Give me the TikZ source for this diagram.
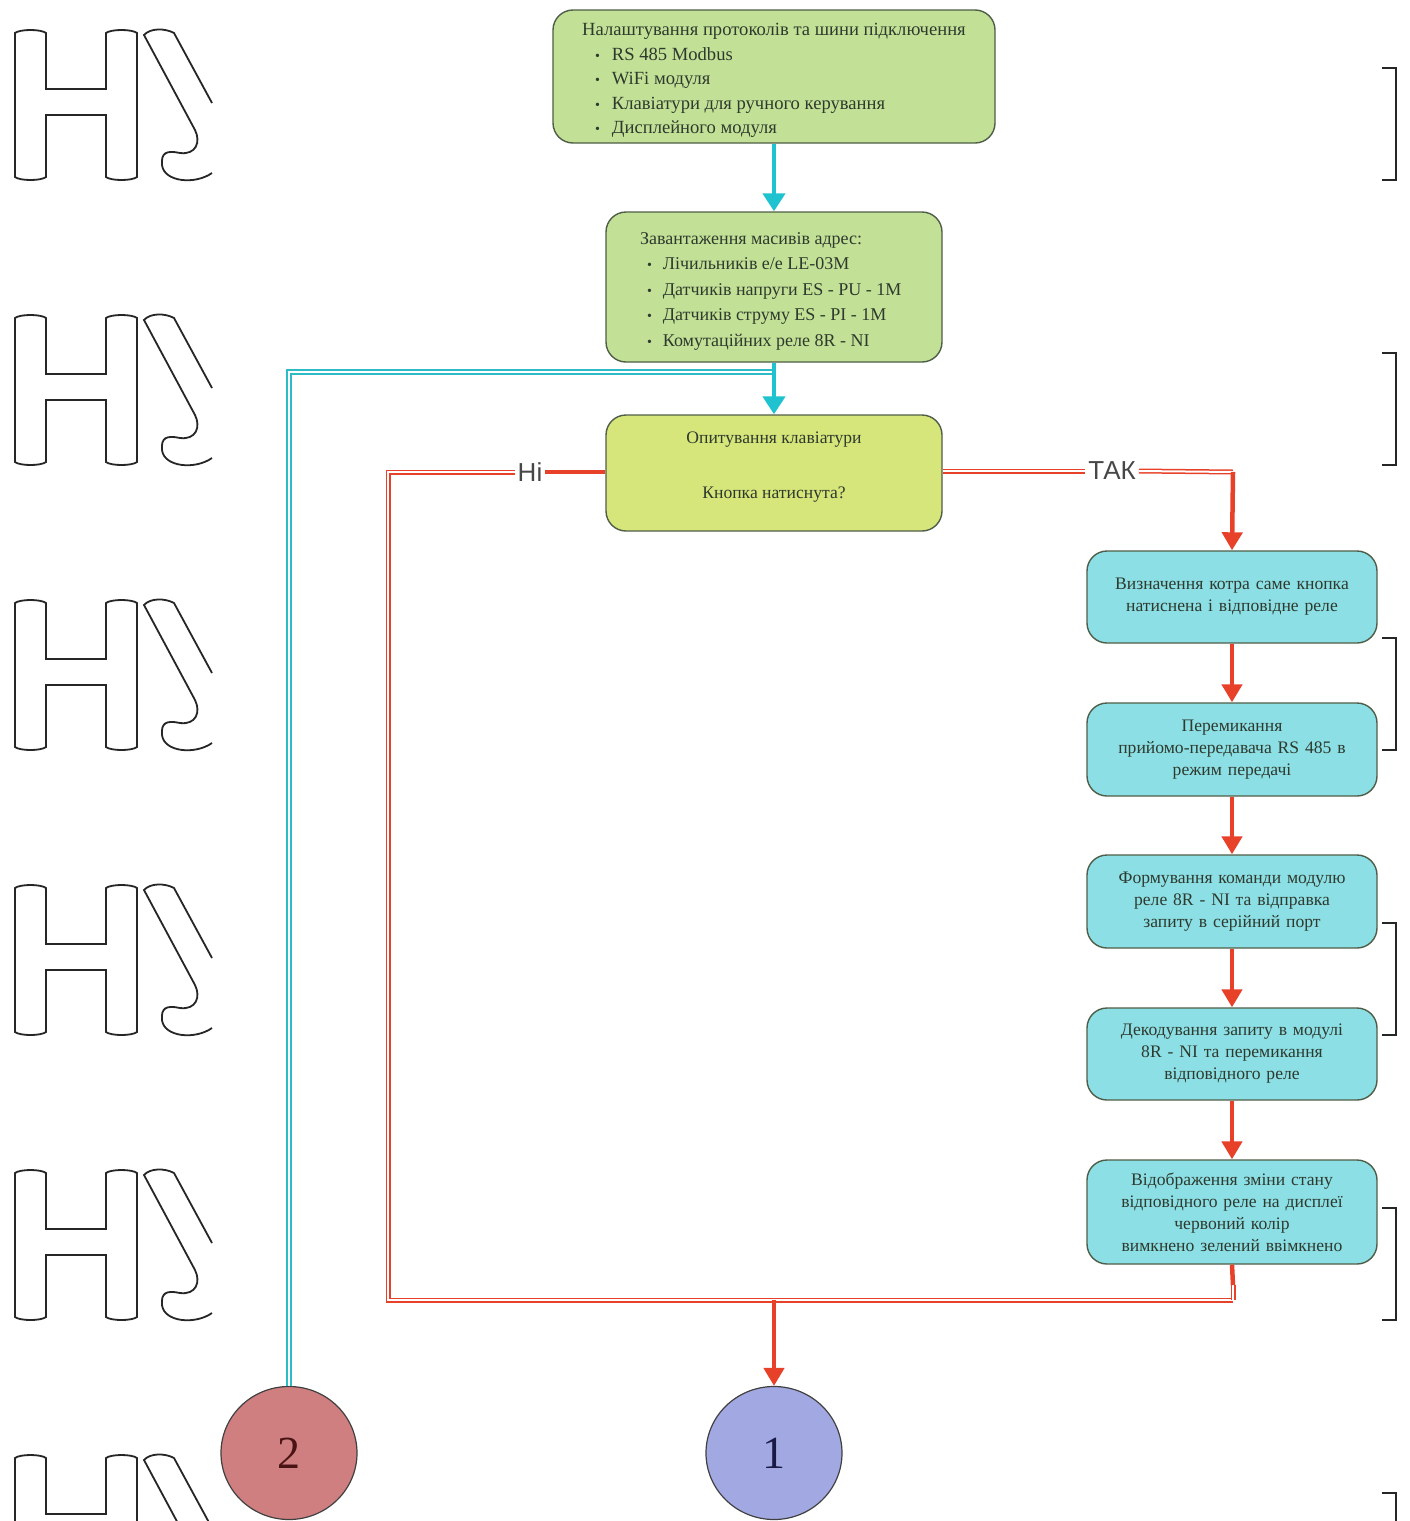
\documentclass[tikz,border=0pt]{standalone}
\usepackage{fontspec}
\setmainfont{Liberation Serif}
\newfontfamily\lblfont{Liberation Sans}
\usetikzlibrary{arrows.meta,shapes.geometric}
\definecolor{gfill}{HTML}{C3E196}
\definecolor{yfill}{HTML}{D7E67A}
\definecolor{cfill}{HTML}{8CDFE5}
\definecolor{edgec}{HTML}{4F5E48}
\definecolor{txtc}{HTML}{2E3A2E}
\definecolor{cyanA}{HTML}{1FC3CF}
\definecolor{tealA}{HTML}{2BBCC6}
\definecolor{redA}{HTML}{E8412A}
\definecolor{c2fill}{HTML}{CF7F80}
\definecolor{c1fill}{HTML}{A2A9E2}
\newcommand\fbul{{\fontsize{14}{10}\selectfont\textbullet}}
\begin{document}
\begin{tikzpicture}[x=1pt,y=-1pt,
  flowbox/.style={draw=edgec, line width=1.4pt, rounded corners=20pt, inner sep=0pt, text=txtc, font=\fontsize{17.6}{22}\selectfont},
  gbox/.style={flowbox, fill=gfill, font=\fontsize{18.6}{24.5}\selectfont},
  ybox/.style={flowbox, fill=yfill, align=center},
  cbox/.style={flowbox, fill=cfill, align=center, text width=284pt, minimum width=290pt},
  cyarrow/.style={draw=cyanA, line width=4.5pt, -{Triangle[width=22pt,length=18pt]}},
  redarrow/.style={draw=redA, line width=4.5pt, -{Triangle[width=20pt,length=18pt]}},
  redthick/.style={draw=redA, line width=4.5pt},
  reddouble/.style={draw=redA, line width=1.5pt, double=white, double distance=2pt},
  tealdouble/.style={draw=tealA, line width=1.4pt, double=white, double distance=2.6pt},
  lbl/.style={font=\lblfont\fontsize{26}{26}\selectfont, text=black!72, inner sep=3pt},
  circnode/.style={ellipse, draw=black!75, line width=1.2pt, minimum width=136pt, minimum height=133pt, font=\fontsize{46}{46}\selectfont},
  wmline/.style={draw=black!85, line width=1.8pt},
  wmH/.pic={
    \draw[wmline] (15,33) .. controls (20,29) and (41,29) .. (46,33) -- (46,89) -- (106,89) -- (106,33)
      .. controls (111,29) and (132,29) .. (137,33) -- (137,177) .. controls (132,181) and (111,181) .. (106,177)
      -- (106,115) -- (46,115) -- (46,177) .. controls (41,181) and (20,181) .. (15,177) -- cycle;
    \draw[wmline] (212,103) -- (174,33) .. controls (165,28) and (150,28) .. (144,35) -- (195,130)
      .. controls (201,142) and (196,155) .. (180,153) .. controls (166,150) and (161,153) .. (162,165)
      .. controls (164,182) and (195,185) .. (212,173);
  },
  wmB/.pic={
    \draw[wmline] (1382,68) -- (1396,68) -- (1396,180) -- (1382,180);
  }
]
\useasboundingbox[fill=white] (0,0) rectangle (1410,1521);

% watermark fragments
\foreach \k in {0,...,5} {
  \pic at (0,285*\k) {wmH};
  \pic at (0,285*\k) {wmB};
}
\useasboundingbox (0,0) rectangle (1410,1521);

% boxes
\node[gbox, minimum width=442pt, minimum height=133pt] (b1) at (774,76.5) {%
\begin{minipage}{430pt}\vspace*{8pt}\centering Налаштування протоколів та шини підключення\par\raggedright
\hspace*{36pt}\fbul\hspace{12pt}RS 485 Modbus\par
\hspace*{36pt}\fbul\hspace{12pt}WiFi модуля\par
\hspace*{36pt}\fbul\hspace{12pt}Клавіатури для ручного керування\par
\hspace*{36pt}\fbul\hspace{12pt}Дисплейного модуля\end{minipage}};

\node[gbox, minimum width=336pt, minimum height=150pt, font=\fontsize{18}{25.5}\selectfont] (b2) at (774,287) {%
\begin{minipage}{320pt}\vspace*{8pt}\raggedright
\hspace*{26pt}Завантаження масивів адрес:\par
\hspace*{33pt}\fbul\hspace{11pt}Лічильників е/е LE-03M\par
\hspace*{33pt}\fbul\hspace{11pt}Датчиків напруги ES - PU - 1M\par
\hspace*{33pt}\fbul\hspace{11pt}Датчиків струму ES - PI - 1M\par
\hspace*{33pt}\fbul\hspace{11pt}Комутаційних реле 8R - NI\end{minipage}};

\node[ybox, minimum width=336pt, minimum height=116pt] (b3) at (774,473) {Опитування клавіатури\\[33pt]Кнопка натиснута?\\[-6pt]};

\node[cbox, minimum height=92pt] (b4) at (1232,597) {Визначення котра саме кнопка\\натиснена і відповідне реле};
\node[cbox, minimum height=93pt] (b5) at (1232,749.5) {Перемикання\\прийомо-передавача RS 485 в\\режим передачі};
\node[cbox, minimum height=93pt] (b6) at (1232,901.5) {Формування команди модулю\\реле 8R - NI та відправка\\запиту в серійний порт};
\node[cbox, minimum height=92pt] (b7) at (1232,1054) {Декодування запиту в модулі\\8R - NI та перемикання\\відповідного реле};
\node[cbox, minimum height=104pt] (b8) at (1232,1212) {Відображення зміни стану\\відповідного реле на дисплеї\\червоний колір\\вимкнено зелений ввімкнено};

\node[circnode, fill=c2fill, text={rgb,255:red,75;green,20;blue,20}] (c2) at (289,1453) {2};
\node[circnode, fill=c1fill, text={rgb,255:red,25;green,25;blue,70}] (c1) at (774,1453) {1};

% labels
\node[lbl] (ni) at (530,472) {Ні};
\node[lbl] (tak) at (1112,471) {ТАК};

% coordinates
\coordinate (tj) at (774,372);
\coordinate (lc) at (388,1300);
\coordinate (mj) at (774,1300);
\coordinate (rc) at (1233,1300);
\coordinate (tc) at (1233,472);
\coordinate (b8s) at (1233,1285);

% teal connector from circle 2
\draw[tealdouble] (c2.north) |- (tj);

% cyan arrows
\draw[cyarrow] (b1.south) -- (b2.north);
\draw[cyarrow] (b2.south) -- (b3.north);

% NO branch
\draw[redthick] (b3.west |- ni) -- (ni.east);
\draw[reddouble] (ni.west) -| (lc) -- (rc);

% YES branch
\draw[reddouble] (b3.east |- tak) -- (tak.west);
\draw[reddouble] (tak.east) -- (tc);
\draw[redarrow] (tc) -- (b4.north);
\draw[redarrow] (b4.south) -- (b5.north);
\draw[redarrow] (b5.south) -- (b6.north);
\draw[redarrow] (b6.south) -- (b7.north);
\draw[redarrow] (b7.south) -- (b8.north);
\draw[reddouble] (b8s) -- (rc);
\draw[redthick] (b8.south) -- (b8s);
\draw[redarrow] (mj) -- (c1.north);
\end{tikzpicture}
\end{document}
